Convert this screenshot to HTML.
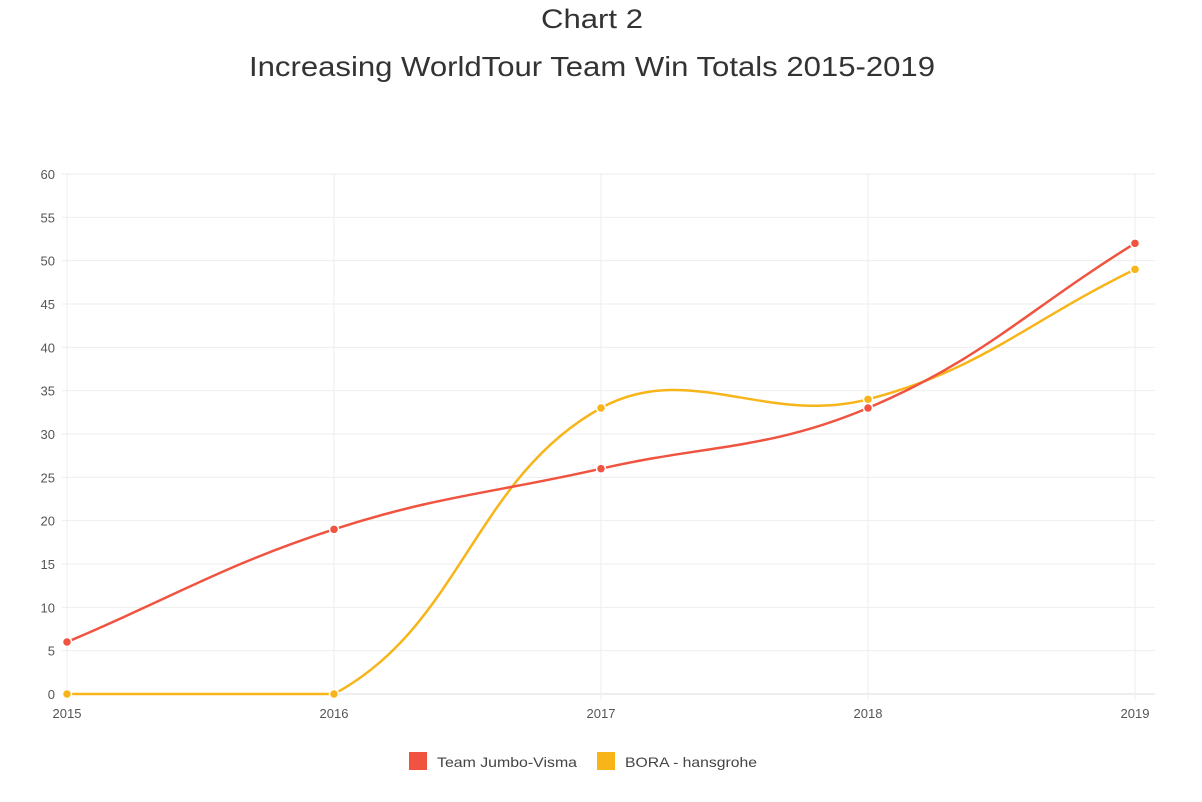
<!DOCTYPE html><html><head><meta charset="utf-8"><style>
body{margin:0;background:#fff;font-family:"Liberation Sans",sans-serif}
</style></head><body>
<svg id="s" width="1202" height="797" xmlns="http://www.w3.org/2000/svg" font-family="Liberation Sans, sans-serif">
<text x="541" y="28" font-size="27" fill="#333" textLength="102" lengthAdjust="spacingAndGlyphs">Chart 2</text>
<text x="249" y="76" font-size="28" fill="#333" textLength="686" lengthAdjust="spacingAndGlyphs">Increasing WorldTour Team Win Totals 2015-2019</text>
<g id="grid"></g>
<g id="lines"></g>
<rect x="409" y="752" width="18" height="18" fill="#f05440"/>
<text x="437" y="767" font-size="14" fill="#444" textLength="140" lengthAdjust="spacingAndGlyphs">Team Jumbo-Visma</text>
<rect x="597" y="752" width="18" height="18" fill="#f7b519"/>
<text x="625" y="767" font-size="14" fill="#444" textLength="132" lengthAdjust="spacingAndGlyphs">BORA - hansgrohe</text>
</svg>
<script>
var NS="http://www.w3.org/2000/svg";
function el(t,a,p,txt){var e=document.createElementNS(NS,t);for(var k in a)e.setAttribute(k,a[k]);if(txt!=null)e.textContent=txt;document.getElementById(p).appendChild(e);return e;}
var X0=67,DX=267,Y0=694,SY=520/60;
for(var v=0;v<=60;v+=5){var y=Y0-v*SY;
el('line',{x1:62,x2:1155,y1:y,y2:y,stroke:v==0?'#ddd':'#eee','stroke-width':1},'grid');
el('text',{x:55,y:y+5,'text-anchor':'end','font-size':13,fill:'#555'},'grid',v);}
for(var i=0;i<5;i++){var x=X0+i*DX;
el('line',{x1:x,x2:x,y1:174,y2:700,stroke:'#eee','stroke-width':1},'grid');
el('text',{x:x,y:718,'text-anchor':'middle','font-size':13,fill:'#555'},'grid',2015+i);}
function path(data,col){
var p=data.map(function(v,i){return{x:X0+i*DX,y:Y0-v*SY}});
var t=0.4,cps=[];
for(var i=0;i<p.length;i++){var pr=p[i-1]||p[i],c=p[i],n=p[i+1]||p[i];
var d01=Math.hypot(c.x-pr.x,c.y-pr.y),d12=Math.hypot(n.x-c.x,n.y-c.y);
var s01=d01/(d01+d12)||0,s12=d12/(d01+d12)||0;var fa=t*s01,fb=t*s12;
cps.push({px:c.x-fa*(n.x-pr.x),py:c.y-fa*(n.y-pr.y),nx:c.x+fb*(n.x-pr.x),ny:c.y+fb*(n.y-pr.y)});}
var d='M'+p[0].x+','+p[0].y;
for(var i=1;i<p.length;i++){d+=' C'+cps[i-1].nx+','+Math.min(Y0,cps[i-1].ny)+' '+cps[i].px+','+Math.min(Y0,cps[i].py)+' '+p[i].x+','+p[i].y;}
el('path',{d:d,fill:'none',stroke:col,'stroke-width':2.5},'lines');
p.forEach(function(q){el('circle',{cx:q.x,cy:q.y,r:4.5,fill:col,stroke:'#fff','stroke-width':1.5},'lines')});}
path([0,0,33,34,49],'#f7b519');
path([6,19,26,33,52],'#f05440');
</script>
</body></html>
